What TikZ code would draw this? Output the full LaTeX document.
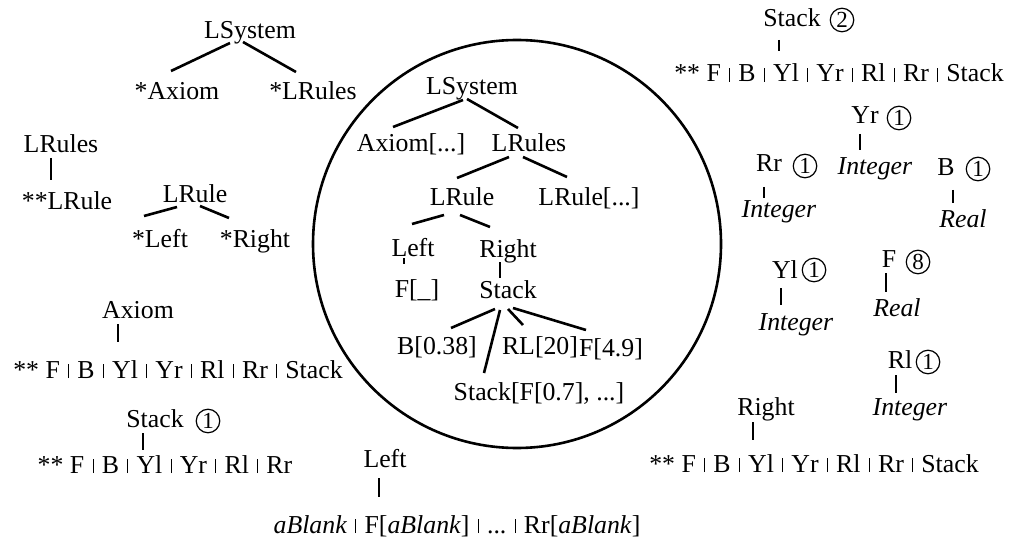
\documentclass[tikz,border=0pt]{standalone}
\usepackage{fontspec}
\setmainfont{Liberation Serif}
\usepackage{tikz}
\usetikzlibrary{calc,positioning}

\newcommand{\vsep}{\hspace{0.32em}\rule{1pt}{0.56em}\hspace{0.32em}}

\tikzset{
  lbl/.style={anchor=base, inner sep=0pt, font=\fontsize{25.8}{30}\selectfont},
  cnum/.style={circle, draw, line width=1.2pt, minimum size=23.5pt, inner sep=0pt, font=\fontsize{23}{26}\selectfont},
  link/.style={line width=2.6pt}
}

\begin{document}
\begin{tikzpicture}[x=1pt,y=-1pt]
    \useasboundingbox (0,0) rectangle (1014,540);

    \node[lbl] (lsA) at (250,39) {LSystem};
    \node[lbl] (axA) at (177,100) {*Axiom};
    \node[lbl] (lrA) at (313,100) {*LRules};
    \draw[link] ([shift={(-20,4)}]lsA.base) -- ([shift={(-6,-29)}]axA.base);
    \draw[link] ([shift={(-7,3)}]lsA.base) -- ([shift={(-17,-28)}]lrA.base);

    \node[lbl] (lrulesB) at (61,153) {LRules};
    \node[lbl] (lruleB) at (67,210) {**LRule};
    \draw[link] ([shift={(-10,5)}]lrulesB.base) -- ([shift={(-16,-30)}]lruleB.base);

    \node[lbl] (lruleC) at (195,203) {LRule};
    \node[lbl] (leftC) at (160,247) {*Left};
    \node[lbl] (rightC) at (255,247) {*Right};
    \draw[link] ([shift={(-18,4)}]lruleC.base) -- ([shift={(-16,-31)}]leftC.base);
    \draw[link] ([shift={(5,3)}]lruleC.base) -- ([shift={(-26,-29)}]rightC.base);

    \node[lbl] (axiomD) at (138,318) {Axiom};
    \node[lbl] (axexp) at (178,378) {** F\vsep B\vsep Yl\vsep Yr\vsep Rl\vsep Rr\vsep Stack};
    \draw[link] ([shift={(-20,6)}]axiomD.base) -- ([shift={(-60,-36)}]axexp.base);

    \node[lbl] (stackE) at (155,427) {Stack};
    \node[cnum] (stackEn) at (208,421) {1};
    \node[lbl] (stexp) at (165,473) {** F\vsep B\vsep Yl\vsep Yr\vsep Rl\vsep Rr};
    \draw[link] ([shift={(-12,6)}]stackE.base) -- ([shift={(-22,-23)}]stexp.base);

    \node[lbl] (leftF) at (385,467) {Left};
    \node[lbl] (leftexp) at (457,533) {\textit{aBlank}\vsep F[\textit{aBlank}]\vsep ...\vsep Rr[\textit{aBlank}]};
    \draw[link] ([shift={(-6,11)}]leftF.base) -- ([shift={(-78,-36)}]leftexp.base);

    \node[circle, draw, line width=2.6pt, minimum size=408pt, inner sep=0pt] (frame) at (517,244) {};

    \node[lbl] (lsI) at (472,95) {LSystem};
    \node[lbl] (axI) at (411,152) {Axiom[...]};
    \node[lbl] (lrI) at (529,152) {LRules};
    \draw[link] ([shift={(-9,5)}]lsI.base) -- ([shift={(-18,-25)}]axI.base);
    \draw[link] ([shift={(-5,4)}]lsI.base) -- ([shift={(-11,-24)}]lrI.base);
    \node[lbl] (lruleI) at (462,206) {LRule};
    \node[lbl] (lrule2I) at (589,206) {LRule[...]};
    \draw[link] ([shift={(-20,5)}]lrI.base) -- ([shift={(-5,-28)}]lruleI.base);
    \draw[link] ([shift={(-6,5)}]lrI.base) -- ([shift={(-22,-29)}]lrule2I.base);
    \node[lbl] (leftI) at (413,256) {Left};
    \node[lbl] (rightI) at (508,257) {Right};
    \draw[link] ([shift={(-18,9)}]lruleI.base) -- ([shift={(-1,-32)}]leftI.base);
    \draw[link] ([shift={(-2,9)}]lruleI.base) -- ([shift={(-18,-30)}]rightI.base);
    \node[lbl] (fI) at (417,297) {F[\_]};
    \node[lbl] (stackI) at (508,298) {Stack};
    \draw[link] ([shift={(-9,2)}]leftI.base) -- ([shift={(-13,-33)}]fI.base);
    \draw[link] ([shift={(-8,5)}]rightI.base) -- ([shift={(-8,-20)}]stackI.base);
    \node[lbl] (bI) at (437,354) {B[0.38]};
    \node[lbl] (rlI) at (540,354) {RL[20]};
    \node[lbl] (f2I) at (611,356) {F[4.9]};
    \node[lbl] (stI) at (539,400) {Stack[F[0.7], ...]};
    \draw[link] ([shift={(-13,11)}]stackI.base) -- ([shift={(14,-26)}]bI.base);
    \draw[link] ([shift={(-8,12)}]stackI.base) -- ([shift={(-55,-27)}]stI.base);
    \draw[link] ([shift={(0,11)}]stackI.base) -- ([shift={(-17,-29)}]rlI.base);
    \draw[link] ([shift={(5,10)}]stackI.base) -- ([shift={(-25,-26)}]f2I.base);

    \node[lbl] (stackR) at (792,27) {Stack};
    \node[cnum] (stackRn) at (842,20) {2};
    \node[lbl] (stexpR) at (839,82) {** F\vsep B\vsep Yl\vsep Yr\vsep Rl\vsep Rr\vsep Stack};
    \draw[link] ([shift={(-13,13)}]stackR.base) -- ([shift={(-60,-31)}]stexpR.base);

    \node[lbl] (yrR) at (865,124) {Yr};
    \node[cnum] (yrRn) at (899,118) {1};
    \node[lbl] (yrInt) at (875,175) {\textit{Integer}};
    \draw[link] ([shift={(-5,10)}]yrR.base) -- ([shift={(-15,-25)}]yrInt.base);

    \node[lbl] (rrR) at (769,172) {Rr};
    \node[cnum] (rrRn) at (805,166) {1};
    \node[lbl] (rrInt) at (779,218) {\textit{Integer}};
    \draw[link] ([shift={(-5,15)}]rrR.base) -- ([shift={(-15,-20)}]rrInt.base);

    \node[lbl] (bR) at (946,176) {B};
    \node[cnum] (bRn) at (978,169) {1};
    \node[lbl] (bReal) at (963,227) {\textit{Real}};
    \draw[link] ([shift={(7,14)}]bR.base) -- ([shift={(-10,-24)}]bReal.base);

    \node[lbl] (ylR) at (785,278) {Yl};
    \node[cnum] (ylRn) at (814,270) {1};
    \node[lbl] (ylInt) at (796,330) {\textit{Integer}};
    \draw[link] ([shift={(-4,10)}]ylR.base) -- ([shift={(-15,-25)}]ylInt.base);

    \node[lbl] (fR) at (889,267) {F};
    \node[cnum] (fRn) at (918,262) {8};
    \node[lbl] (fReal) at (897,316) {\textit{Real}};
    \draw[link] ([shift={(-3,6)}]fR.base) -- ([shift={(-11,-24)}]fReal.base);

    \node[lbl] (rlR) at (900,368) {Rl};
    \node[cnum] (rlRn) at (928,362) {1};
    \node[lbl] (rlInt) at (910,415) {\textit{Integer}};
    \draw[link] ([shift={(-4,7)}]rlR.base) -- ([shift={(-14,-22)}]rlInt.base);

    \node[lbl] (rightR) at (766,415) {Right};
    \node[lbl] (rightexp) at (814,472) {** F\vsep B\vsep Yl\vsep Yr\vsep Rl\vsep Rr\vsep Stack};
    \draw[link] ([shift={(-13,7)}]rightR.base) -- ([shift={(-61,-32)}]rightexp.base);
\end{tikzpicture}
\end{document}
